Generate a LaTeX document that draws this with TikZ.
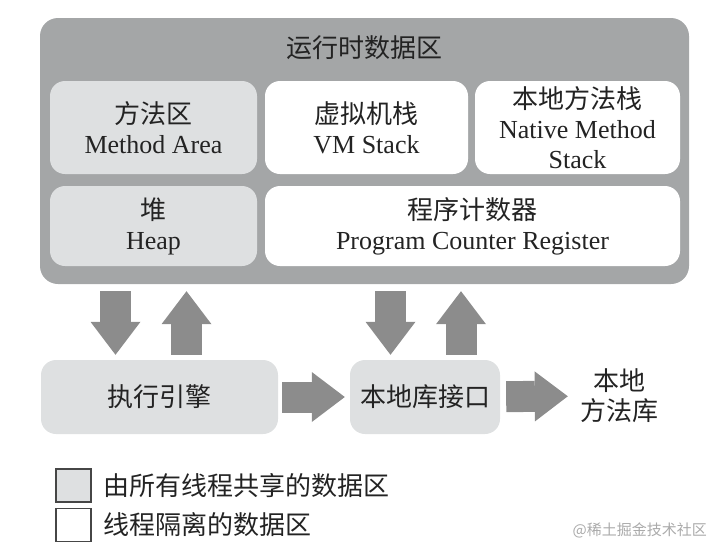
\documentclass[tikz,border=0pt]{standalone}
\usepackage{fontspec}
\setmainfont{Liberation Serif}
\newfontfamily\cjk{Noto Sans CJK SC}
\usetikzlibrary{positioning}
\usetikzlibrary{arrows.meta}

\definecolor{runtimegray}{RGB}{164,166,167}
\definecolor{arrowgray}{RGB}{140,140,140}
\definecolor{sharedgray}{RGB}{222,224,225}
\definecolor{inkgray}{RGB}{35,35,35}
\definecolor{keyedge}{RGB}{70,70,70}
\definecolor{markgray}{RGB}{170,170,170}

\tikzset{
    area/.style={rounded corners=15pt, inner sep=0pt, text=inkgray, align=center, font=\fontsize{26}{30}\selectfont},
    sharedarea/.style={area, fill=sharedgray},
    privatearea/.style={area, fill=white},
    fatarrow/.style={draw=arrowgray, line width=31pt, -{Triangle[length=33pt, width=50pt, line width=0pt]}},
    keybox/.style={draw=keyedge, line width=1.5pt, minimum width=35pt, minimum height=33pt, inner sep=0pt},
    keytext/.style={inner sep=0pt, text=inkgray, font=\cjk\fontsize{26}{30}\selectfont}
}

\begin{document}
\begin{tikzpicture}[x=1pt,y=1pt,yscale=-1,xscale=1]
    \useasboundingbox (0,0) rectangle (721,555);

    % runtime data area
    \node [rounded corners=18pt, fill=runtimegray, inner sep=0pt, minimum width=649pt, minimum height=266pt] (runtime) at (364.5,151) {};
    \node [area] (title) at (364.5,48) {\cjk 运行时数据区};

    \node [sharedarea, minimum width=207pt, minimum height=93pt] (method) at (153.5,127.5) {{\cjk 方法区}\\Method Area};
    \node [privatearea, minimum width=203pt, minimum height=93pt] (vmstack) at (366.5,127.5) {{\cjk 虚拟机栈}\\VM Stack};
    \node [privatearea, minimum width=205pt, minimum height=93pt] (native) at (577.5,127.5) {{\cjk 本地方法栈}\\Native Method\\Stack};
    \node [sharedarea, minimum width=207pt, minimum height=80pt] (heap) at (153.5,226) {{\cjk 堆}\\Heap};
    \node [privatearea, minimum width=415pt, minimum height=80pt] (counter) at (472.5,226) {{\cjk 程序计数器}\\Program Counter Register};

    % engine and native interface
    \node [sharedarea, minimum width=237pt, minimum height=74pt] (engine) at (159.5,397) {\cjk 执行引擎};
    \node [sharedarea, minimum width=150pt, minimum height=74pt] (jni) at (425,397) {\cjk 本地库接口};
    \node [area, text=inkgray] (library) at (619,396) {\cjk 本地\\\cjk 方法库};

    \draw [fatarrow, shorten <=7pt, shorten >=5pt] ([xshift=-44pt]engine.north |- runtime.south) -- ([xshift=-44pt]engine.north);
    \draw [fatarrow, shorten <=5pt, shorten >=7pt] ([xshift=27pt]engine.north) -- ([xshift=27pt]engine.north |- runtime.south);
    \draw [fatarrow, shorten <=7pt, shorten >=5pt] ([xshift=-34.5pt]jni.north |- runtime.south) -- ([xshift=-34.5pt]jni.north);
    \draw [fatarrow, shorten <=5pt, shorten >=7pt] ([xshift=36pt]jni.north) -- ([xshift=36pt]jni.north |- runtime.south);
    \draw [fatarrow, shorten <=4pt, shorten >=5pt] (engine) -- (jni);
    \draw [fatarrow, shorten <=6pt, shorten >=12pt] (jni) -- (library);

    % key
    \node [keybox, fill=sharedgray] (sharedkey) at (73.5,485.5) {};
    \node [keybox, fill=white] (privatekey) at (73.5,525) {};
    \node [keytext, right=12pt of sharedkey] (sharedtext) {由所有线程共享的数据区};
    \node [keytext, right=12pt of privatekey] (privatetext) {线程隔离的数据区};

    \node [anchor=east, inner sep=0pt, text=markgray, font=\cjk\fontsize{15}{18}\selectfont] (watermark) at (707,530) {@稀土掘金技术社区};
\end{tikzpicture}
\end{document}
